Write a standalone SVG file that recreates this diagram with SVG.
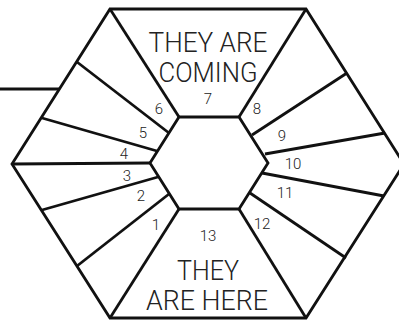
<svg xmlns="http://www.w3.org/2000/svg" width="399" height="322" viewBox="0 0 399 322">
<style>
.ln{stroke:#111;stroke-width:2.8;fill:none;stroke-linejoin:miter}
.big{font-family:Roboto,"Liberation Sans",sans-serif;font-weight:300;font-size:27px;fill:#222;text-anchor:middle}
.num{font-family:Roboto,"Liberation Sans",sans-serif;font-weight:300;font-size:15px;fill:#222;text-anchor:middle}
</style>
<rect width="399" height="322" fill="#fff"/>
<g id="connectors">
<line class="ln" x1="0" y1="89" x2="59" y2="89"/>
</g>
<g id="outer"><polygon class="ln" points="110,9 306,9 404,164 306,318 110,318 12,164"/></g>
<g id="inner"><polygon class="ln" points="179,117 239,117 268,163 239,209 179,209 150,163"/></g>
<g id="spokes">
<line class="ln" x1="110" y1="9" x2="179" y2="117"/>
<line class="ln" x1="306" y1="9" x2="239" y2="117"/>
<line class="ln" x1="110" y1="318" x2="179" y2="209"/>
<line class="ln" x1="306" y1="318" x2="239" y2="209"/>
<line class="ln" x1="77" y1="62" x2="169" y2="133"/>
<line class="ln" x1="42" y1="118" x2="157" y2="151"/>
<line class="ln" x1="12" y1="164" x2="150" y2="163"/>
<line class="ln" x1="42" y1="210" x2="158" y2="177"/>
<line class="ln" x1="77" y1="266" x2="169" y2="194"/>
<line class="ln" x1="347" y1="73" x2="252" y2="135"/>
<line class="ln" x1="385" y1="133" x2="265" y2="154"/>
<line class="ln" x1="262" y1="173" x2="384" y2="196"/>
<line class="ln" x1="250" y1="193" x2="346" y2="258"/>
</g>
<g id="s7"><text class="big" x="208" y="52" textLength="119" lengthAdjust="spacingAndGlyphs">THEY ARE</text><text class="big" x="208" y="82" textLength="99" lengthAdjust="spacingAndGlyphs">COMING</text><text class="num" x="208" y="104">7</text></g>
<g id="s13"><text class="num" x="208" y="241">13</text><text class="big" x="208" y="280" textLength="62" lengthAdjust="spacingAndGlyphs">THEY</text><text class="big" x="207" y="310" textLength="122" lengthAdjust="spacingAndGlyphs">ARE HERE</text></g>
<g id="s1"><text class="num" x="156" y="230">1</text></g>
<g id="s2"><text class="num" x="141" y="201">2</text></g>
<g id="s3"><text class="num" x="127" y="181">3</text></g>
<g id="s4"><text class="num" x="124" y="159">4</text></g>
<g id="s5"><text class="num" x="143" y="138">5</text></g>
<g id="s6"><text class="num" x="159" y="114">6</text></g>
<g id="s8"><text class="num" x="257" y="114">8</text></g>
<g id="s9"><text class="num" x="282" y="141">9</text></g>
<g id="s10"><text class="num" x="293" y="169">10</text></g>
<g id="s11"><text class="num" x="285" y="198">11</text></g>
<g id="s12"><text class="num" x="262" y="229">12</text></g>
</svg>
